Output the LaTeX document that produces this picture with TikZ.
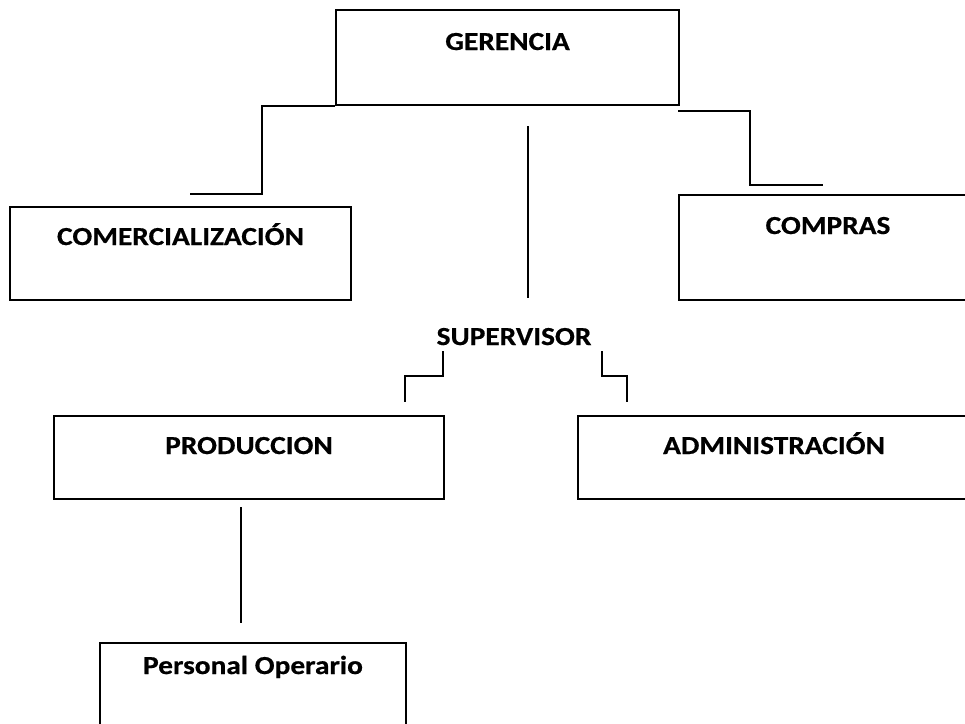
\documentclass[tikz,border=0pt]{standalone}
\usepackage{fontspec}
\setmainfont{Carlito}[FakeStretch=1.13, BoldFeatures={FakeBold=0.6}]
\usetikzlibrary{positioning}

\tikzset{
  rotulo/.style={font=\bfseries\fontsize{26}{30}\selectfont},
  caja/.style={draw, rotulo, line width=2pt, anchor=north west, inner sep=0pt, text height=38pt, text depth=#1},
  linea/.style={line width=1.8pt},
}

\begin{document}
\begin{tikzpicture}[x=1pt, y=-1pt]
    \useasboundingbox (0,0) rectangle (965,723);
    \clip (0,0) rectangle (965,723);
    % cajas
    \node[caja=55pt, text height=40pt, minimum width=343pt] (gerencia) at (335,9) {GERENCIA};
    \node[caja=55pt, minimum width=341pt] (comer) at (9,206) {COMERCIALIZACIÓN};
    \node[caja=66pt, text height=39pt, minimum width=298pt] (compras) at (678,194) {COMPRAS};
    \node[rotulo, anchor=base] (super) at (514,345) {SUPERVISOR};
    \node[caja=45pt, minimum width=390pt] (produc) at (53,415) {PRODUCCION};
    \node[caja=45pt, minimum width=392pt] (admin) at (577,415) {ADMINISTRACIÓN};
    \node[caja=62pt, text height=31pt, minimum width=306pt] (personal) at (99,642) {Personal Operario};
    % puntos de las lineas
    \coordinate (ca) at (262,194);
    \coordinate (cb) at (190,194);
    \coordinate (da) at (678,111);
    \coordinate (db) at (750,185);
    \coordinate (dc) at (823,185);
    \coordinate (ma) at (528,126);
    \coordinate (mb) at (528,298);
    \coordinate (sa) at (443,351);
    \coordinate (sb) at (405,402);
    \coordinate (sc) at (602,351);
    \coordinate (sd) at (627,402);
    \coordinate (pa) at (241,507);
    \coordinate (pb) at (241,623);
    % lineas
    \draw[linea] (gerencia.south west) -| (ca) -- (cb);
    \draw[linea] (da) -| (db) -- (dc);
    \draw[linea] (ma) -- (mb);
    \draw[linea] (sa) |- (405,376) -- (sb);
    \draw[linea] (sc) |- (627,376) -- (sd);
    \draw[linea] (pa) -- (pb);
\end{tikzpicture}
\end{document}
